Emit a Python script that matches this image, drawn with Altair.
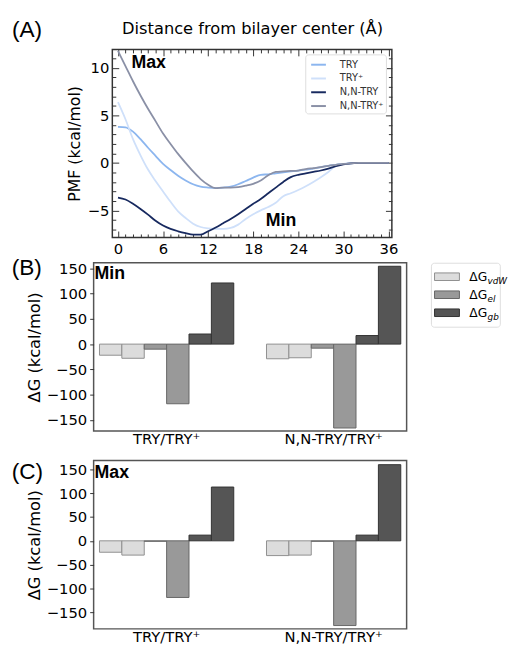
import altair as alt
import pandas as pd

# ---------------- data ----------------
dist = list(range(37))
pmf_try = [3.8, 3.75, 3.3, 2.5, 1.6, 0.75, -0.1, -0.75, -1.35, -1.85, -2.25, -2.5, -2.6, -2.65,
           -2.6, -2.5, -2.25, -1.9, -1.55, -1.25, -1.2, -1.1, -1.0, -0.9, -0.8, -0.7, -0.6,
           -0.45, -0.3, -0.2, -0.1, -0.05, 0, 0, 0, 0, 0]
pmf_tryp = [6.4, 4.6, 2.5, 0.8, -0.7, -1.9, -3.0, -4.1, -5.1, -5.8, -6.4, -6.75, -6.9, -6.95,
            -6.95, -6.85, -6.5, -5.9, -5.4, -5.0, -4.65, -4.2, -3.5, -3.2, -2.85, -2.45, -2.0,
            -1.5, -0.95, -0.3, -0.1, 0, 0, 0, 0, 0, 0]
pmf_nntry = [-3.65, -3.85, -4.3, -4.85, -5.45, -6.1, -6.6, -6.95, -7.2, -7.4, -7.55, -7.55, -7.2,
             -6.8, -6.35, -5.9, -5.4, -4.85, -4.3, -3.8, -3.2, -2.6, -2.0, -1.5, -1.25, -1.1,
             -0.95, -0.8, -0.6, -0.35, -0.15, -0.05, 0, 0, 0, 0, 0]
pmf_nntryp = [11.8, 10.2, 8.6, 7.1, 5.7, 4.4, 3.1, 2.0, 0.95, 0.0, -0.9, -1.7, -2.3, -2.65, -2.6,
              -2.6, -2.55, -2.4, -2.2, -1.85, -1.3, -0.95, -0.9, -0.85, -0.8, -0.65, -0.55,
              -0.45, -0.3, -0.2, -0.1, -0.05, 0, 0, 0, 0, 0]
series_names = ["TRY", "TRY⁺", "N,N-TRY", "N,N-TRY⁺"]
series_colors = ["#8cb6ef", "#cfe0fa", "#17295f", "#8a90a6"]

x_major = [0, 6, 12, 18, 24, 30, 36]
x_minor = [v for v in range(0, 37) if v % 6]
y_major = [-5, 0, 5, 10]
y_minor = [v for v in range(-7, 12) if v % 5]

groups = ["TRY/TRY⁺", "N,N-TRY/TRY⁺"]
bar_keys = ["vdW1", "vdW2", "el1", "el2", "gb1", "gb2"]
bar_comp = ["vdW", "vdW", "el", "el", "gb", "gb"]
min_try = [-22, -28, -10, -118, 20, 121]
min_nntry = [-29, -27, -8, -166, 17, 154]
max_try = [-24, -30, -1, -119, 12, 113]
max_nntry = [-31, -30, -1, -178, 12, 160]
dg_ticks = [-150, -100, -50, 0, 50, 100, 150]
comps = ["vdW", "el", "gb"]
comp_fill = ["#dcdcdc", "#999999", "#555555"]
comp_stroke = ["#8f8f8f", "#666666", "#333333"]

# ---------------- helpers ----------------
def note(text, x, y, size, font="Liberation Sans", weight="normal", align="left"):
    return alt.Chart(pd.DataFrame({"t": [text]})).mark_text(
        align=align, baseline="alphabetic", fontSize=size, font=font,
        fontWeight=weight, color="black"
    ).encode(text="t:N", x=alt.value(x), y=alt.value(y))


def inner_axis(orient, values, size):
    return alt.Axis(orient=orient, values=values, tickSize=size, offset=-size, labels=False,
                    domain=False, grid=False, tickColor="#333333", tickWidth=1, title=None)

# ---------------- panel A ----------------
rows = []
for name, vals in zip(series_names, [pmf_try, pmf_tryp, pmf_nntry, pmf_nntryp]):
    for d, v in zip(dist, vals):
        rows.append({"d": d, "pmf": v, "series": name})
line_df = pd.DataFrame(rows)

xs = alt.Scale(domain=[-0.75, 36.45], nice=False, zero=False)
ys = alt.Scale(domain=[-7.85, 11.95], nice=False, zero=False)

base = alt.Chart(line_df)
lines = base.mark_line(strokeWidth=1.8, interpolate="monotone").encode(
    x=alt.X("d:Q", scale=xs, axis=alt.Axis(
        orient="bottom", values=x_major, tickSize=6.5, offset=-6.5, domain=False, grid=False,
        tickColor="#333333", tickWidth=1, labelFontSize=15, labelColor="black",
        labelFont="DejaVu Sans", labelPadding=4.8, labelFlush=False, title=None)),
    y=alt.Y("pmf:Q", scale=ys, axis=alt.Axis(
        orient="left", values=y_major, tickSize=6.5, offset=-6.5, domain=False, grid=False,
        tickColor="#333333", tickWidth=1, labelFontSize=15, labelColor="black",
        labelFont="DejaVu Sans", labelPadding=3.5, labelFlush=False,
        title="PMF (kcal/mol)", titleFontSize=16, titleFontWeight="normal",
        titleColor="black", titleFont="DejaVu Sans", titlePadding=5)),
    color=alt.Color("series:N", sort=series_names,
                    scale=alt.Scale(domain=series_names, range=series_colors),
                    legend=alt.Legend(title=None, orient="none", legendX=196, legendY=5,
                                      padding=2, strokeColor="#dddddd", fillColor="white",
                                      cornerRadius=3, symbolType="stroke", symbolSize=225,
                                      symbolStrokeWidth=2, symbolOffset=3, labelOffset=13,
                                      rowPadding=0, labelFontSize=10, labelFont="DejaVu Sans",
                                      labelColor="#333333")),
)
ghost_top = base.mark_line(strokeOpacity=0).encode(
    x=alt.X("d:Q", scale=xs, axis=inner_axis("top", x_major, 6.5)),
    y=alt.Y("pmf:Q", scale=ys, axis=inner_axis("right", y_major, 6.5)),
)
ghost_minor1 = base.mark_line(strokeOpacity=0).encode(
    x=alt.X("d:Q", scale=xs, axis=inner_axis("bottom", x_minor, 3.5)),
    y=alt.Y("pmf:Q", scale=ys, axis=inner_axis("left", y_minor, 3.5)),
)
ghost_minor2 = base.mark_line(strokeOpacity=0).encode(
    x=alt.X("d:Q", scale=xs, axis=inner_axis("top", x_minor, 3.5)),
    y=alt.Y("pmf:Q", scale=ys, axis=inner_axis("right", y_minor, 3.5)),
)

panel_a = alt.layer(
    lines, ghost_top, ghost_minor1, ghost_minor2,
    note("(A)", -102, -12.4, 23),
    note("Distance from bilayer center (Å)", 142.5, -15.3, 16.5, font="DejaVu Sans", align="center"),
    note("Max", 19.4, 18.4, 18, weight="bold"),
    note("Min", 156, 179.7, 18, weight="bold"),
).resolve_axis(x="independent", y="independent").properties(
    width=284, height=191,
    view=alt.ViewBackground(stroke="#333333", strokeWidth=1.5)
)

# empty spacer that shifts panel A to the right of the bar panels' left edge
spacer_a = alt.Chart(pd.DataFrame({"t": [""]})).mark_text().encode(
    text="t:N", x=alt.value(0), y=alt.value(0)
).properties(width=18.7, height=191,
             view=alt.ViewBackground(stroke="transparent", fill="transparent"))
row_a = alt.hconcat(spacer_a, panel_a, spacing=0).properties(bounds="flush").resolve_scale(
    x="independent", y="independent").resolve_legend(color="independent")

# ---------------- bar panels ----------------
def bar_panel(vals_a, vals_b, ydom, tag, tag_y, label, label_y):
    df = pd.DataFrame({
        "group": [groups[0]] * 6 + [groups[1]] * 6,
        "bar": bar_keys * 2,
        "comp": bar_comp * 2,
        "value": vals_a + vals_b,
    })
    bars = alt.Chart(df).mark_bar(strokeWidth=1).encode(
        x=alt.X("group:N", sort=groups,
                scale=alt.Scale(paddingInner=0.196, paddingOuter=0.035),
                axis=alt.Axis(title=None, labelAngle=0, ticks=False, domain=False,
                              labelFontSize=15, labelPadding=1, labelColor="black",
                              labelFont="DejaVu Sans")),
        xOffset=alt.XOffset("bar:N", sort=bar_keys,
                            scale=alt.Scale(paddingInner=0, paddingOuter=0)),
        y=alt.Y("value:Q", stack=None, scale=alt.Scale(domain=ydom, nice=False),
                axis=alt.Axis(values=dg_ticks, tickSize=4, tickColor="#333333", domain=False,
                              grid=False, labelFontSize=15, labelColor="black",
                              labelFont="DejaVu Sans", labelPadding=3,
                              title="ΔG (kcal/mol)", titleFontSize=16.5,
                              titleFontWeight="normal", titleColor="black",
                              titleFont="DejaVu Sans", titlePadding=3.5)),
        fill=alt.Fill("comp:N", scale=alt.Scale(domain=comps, range=comp_fill), legend=None),
        stroke=alt.Stroke("comp:N", scale=alt.Scale(domain=comps, range=comp_stroke), legend=None),
    )
    return alt.layer(
        bars,
        note(tag, -83.3, tag_y, 23),
        note(label, 1, label_y, 18, weight="bold"),
    ).properties(width=318, height=171,
                 view=alt.ViewBackground(stroke="#555555", strokeWidth=1.5))


panel_b = bar_panel(min_try, min_nntry, [-172, 161], "(B)", 12.5, "Min", 17)
panel_c = bar_panel(max_try, max_nntry, [-185, 168.6], "(C)", 19.2, "Max", 17.3)

# ---------------- ΔG legend ----------------
leg_df = pd.DataFrame({"comp": comps, "delta": ["ΔG"] * 3})
leg_base = alt.Chart(leg_df).encode(
    y=alt.Y("comp:N", sort=comps, axis=None, scale=alt.Scale(padding=0.776))
)
swatch = leg_base.mark_point(shape="M-1,-0.304H1V0.304H-1Z", size=640, filled=True,
                             strokeWidth=1, opacity=1).encode(
    x=alt.value(16.3),
    fill=alt.Fill("comp:N", scale=alt.Scale(domain=comps, range=comp_fill), legend=None),
    stroke=alt.Stroke("comp:N", scale=alt.Scale(domain=comps, range=comp_stroke), legend=None),
)
leg_delta = leg_base.mark_text(align="left", baseline="middle", fontSize=12.5,
                               font="DejaVu Sans", color="black").encode(
    x=alt.value(39), text="delta:N")
leg_sub = leg_base.mark_text(align="left", baseline="middle", fontSize=9, dy=4,
                             fontStyle="italic", font="DejaVu Sans", color="black").encode(
    x=alt.value(57.5), text="comp:N")
legend_box = alt.layer(swatch, leg_delta, leg_sub).properties(
    width=70, height=65,
    view=alt.ViewBackground(stroke="#dddddd", strokeWidth=1, cornerRadius=3, fill="white")
)

row_b = alt.hconcat(panel_b, legend_box, spacing=24.7).properties(bounds="flush").resolve_scale(
    y="independent", x="independent").resolve_legend(fill="independent", stroke="independent")

top_part = alt.vconcat(row_a, row_b, spacing=-2.3).resolve_scale(
    x="independent", y="independent").resolve_legend(color="independent")
chart = alt.vconcat(top_part, panel_c, spacing=11.7).resolve_scale(
    x="independent", y="independent").resolve_legend(color="independent").properties(
    padding={"left": 2, "top": 5, "right": 0, "bottom": -3.5}
).configure(font="DejaVu Sans")

chart.save("out.html", embed_options={"renderer": "svg", "actions": False})
